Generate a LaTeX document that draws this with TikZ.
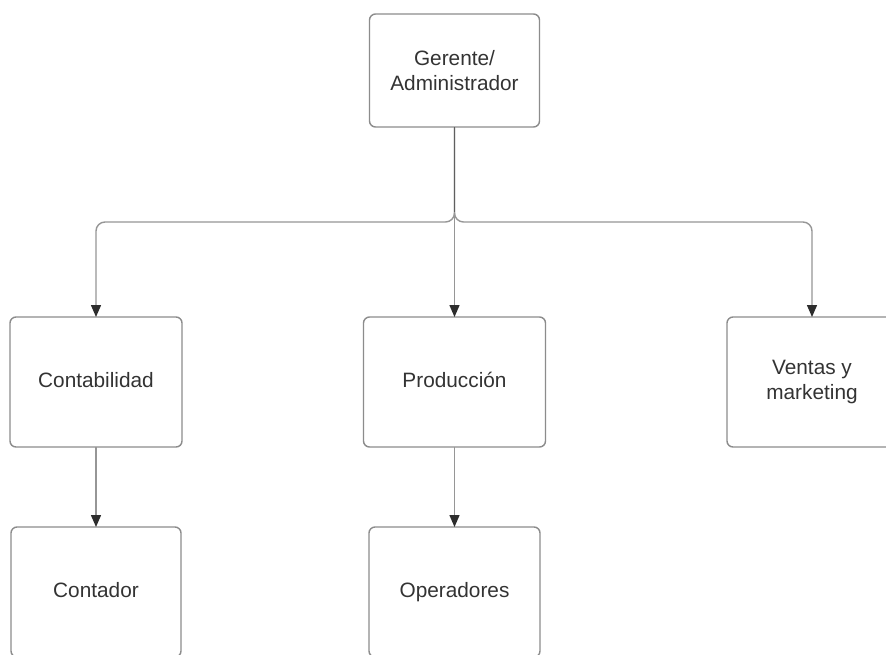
\documentclass[tikz,border=0pt]{standalone}
\usepackage{fontspec}
\setmainfont{Liberation Sans}
\usetikzlibrary{arrows.meta}
\definecolor{boxline}{RGB}{140,140,140}
\definecolor{connline}{RGB}{150,150,150}
\definecolor{trunkline}{RGB}{95,95,95}
\definecolor{txt}{RGB}{51,51,51}
\definecolor{tipc}{RGB}{45,45,45}
\tikzset{
  orgbox/.style={draw=boxline, line width=1.4pt, rounded corners=6pt, fill=white,
    rectangle, inner sep=0pt, outer sep=0pt, align=center, text=txt,
    font=\fontsize{20.8}{25}\selectfont},
  oneline/.style={text height=15pt, text depth=4.5pt},
  conn/.style={draw=connline, line width=1.4pt,
    -{Triangle[length=12pt,width=10pt,color=tipc]}},
  trunk/.style={draw=trunkline, line width=1.6pt}
}
\begin{document}
\begin{tikzpicture}[x=1pt,y=-1pt]
\useasboundingbox (0,0) rectangle (886,654);
\clip (0,0) rectangle (886,654);
\fill[white] (0,0) rectangle (886,654);
\node[orgbox, minimum width=170pt, minimum height=113pt] (ger) at (454.5,70.5) {Gerente/\\Administrador};
\node[orgbox, oneline, minimum width=172pt, minimum height=130pt] (cont) at (96,382) {Contabilidad};
\node[orgbox, oneline, minimum width=182pt, minimum height=130pt] (prod) at (454.5,382) {Producción};
\node[orgbox, minimum width=170pt, minimum height=130pt] (vent) at (812,382) {Ventas y\\marketing};
\node[orgbox, oneline, minimum width=170pt, minimum height=130pt] (ctd) at (96,592) {Contador};
\node[orgbox, oneline, minimum width=171pt, minimum height=130pt] (oper) at (454.5,592) {Operadores};
\coordinate (j) at (454.5,222);
\coordinate (jt) at (454.5,212);
\draw[conn, rounded corners=9pt] (ger.south) -- (j) -| (cont.north);
\draw[conn, rounded corners=9pt] (ger.south) -- (j) -| (vent.north);
\draw[conn] (ger.south) -- (prod.north);
\draw[trunk] (ger.south) -- (jt);
\draw[conn] (cont.south) -- (ctd.north);
\draw[conn] (prod.south) -- (oper.north);
\end{tikzpicture}
\end{document}
